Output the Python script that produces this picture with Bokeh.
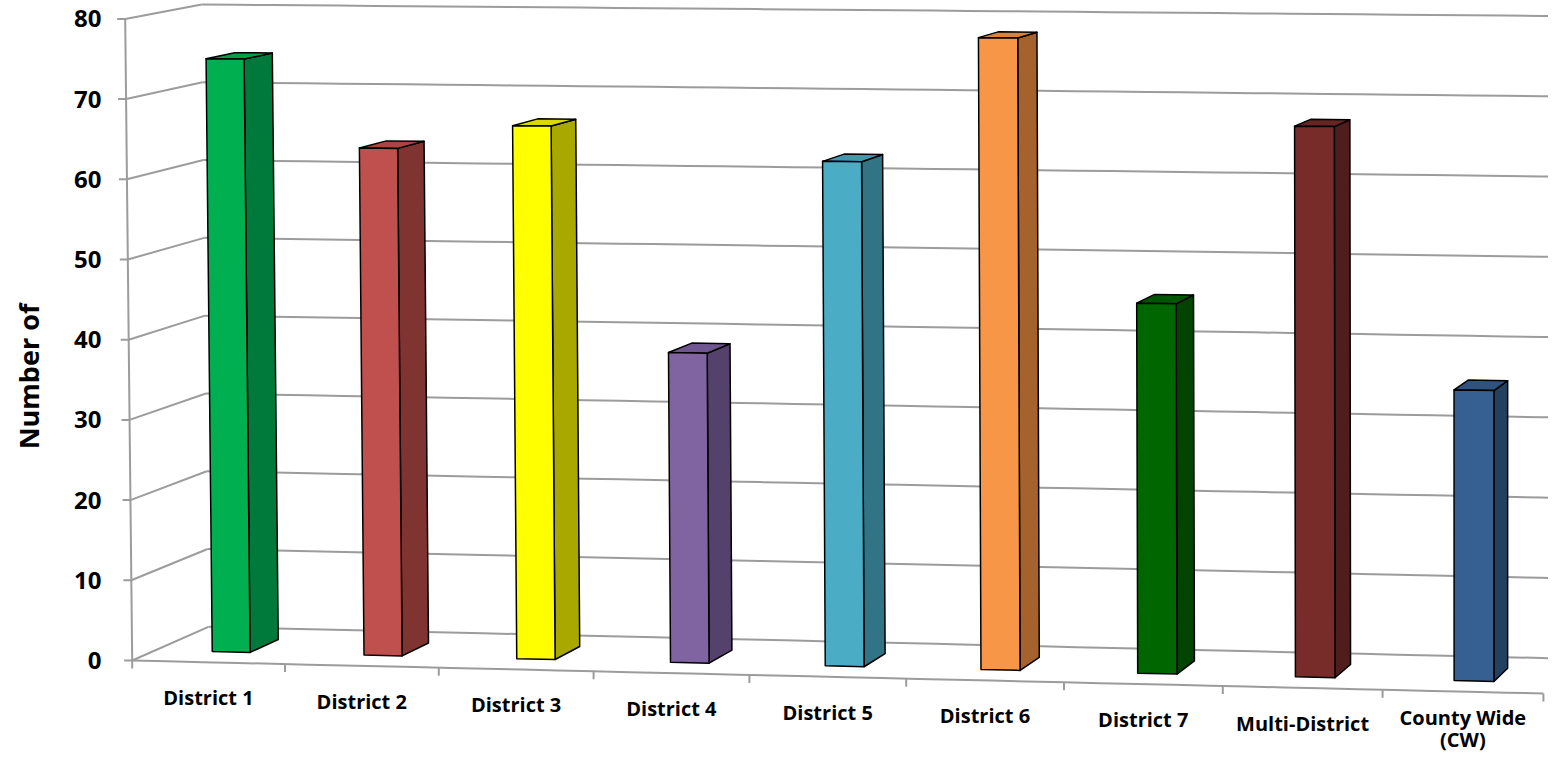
import numpy as np
from bokeh.plotting import figure
from bokeh.models import Range1d, FixedTicker
from bokeh.core.properties import value
from bokeh.embed import file_html
from bokeh.resources import INLINE

# ---------------- data ----------------
categories = ["District 1", "District 2", "District 3", "District 4", "District 5",
              "District 6", "District 7", "Multi-District", "County Wide\n(CW)"]
counts = [74.5, 63.5, 66.5, 38.5, 62.5, 78, 45.5, 67.5, 35.5]
front_colors = ["#00B050", "#C0504D", "#FFFF00", "#8064A2", "#4BACC6",
                "#F79646", "#006600", "#772C2A", "#376092"]
side_colors = ["#007A3A", "#803432", "#A8A800", "#55426C", "#317486",
               "#A5622C", "#004400", "#4F1D1C", "#244061"]
top_colors = ["#00A045", "#A94542", "#D9D900", "#6F5690", "#4398B0",
              "#D98239", "#005600", "#652523", "#2F527E"]
y_ticks = [0, 10, 20, 30, 40, 50, 60, 70, 80]
y_label = "Number of"

# ---------------- 3-D projection (perspective view) ----------------
X0, DX1, DX2 = 131.7, 152.3, 0.5        # front floor edge along categories
Y0, FLOOR_SLOPE = 660.0, 0.0234
S0, S1 = 8.02, 0.029                    # vertical scale per value unit
LEAN0, LEAN_U = 0.0875, 8.6
VPX, VPY = 2674.0, -462.0               # depth vanishing point
WALL = 0.03                             # depth of the chart box
BAR_F, BAR_B = 0.0092, 0.0207           # bar depth span
BAR_HALF = 0.125                        # half bar width (gap width 300%)
PX = 8.02
W, H = 1548, 752
LEFT = 110


def project(u, v, lam):
    u = np.asarray(u, dtype=float)
    v = np.asarray(v, dtype=float)
    base = DX1 * u + DX2 * u * u
    xf = X0 + base - LEAN0 * (1 - u / LEAN_U) * v
    yf = Y0 + FLOOR_SLOPE * base - (S0 + S1 * u) * v
    X = xf + lam * (VPX - xf)
    Y = yf + lam * (VPY - yf)
    return X, (Y0 - Y) / PX


n = len(categories)

p = figure(width=W, height=H,
           x_range=Range1d(LEFT, W),
           y_range=Range1d((Y0 - H) / PX, Y0 / PX),
           output_backend="svg", toolbar_location=None,
           x_axis_location=None,
           min_border_left=LEFT, min_border_right=0,
           min_border_top=0, min_border_bottom=0)
p.grid.visible = False
p.outline_line_color = None
p.background_fill_color = "white"

ax = p.yaxis[0]
ax.ticker = FixedTicker(ticks=y_ticks)
ax.axis_line_color = None
ax.major_tick_line_color = None
ax.minor_tick_line_color = None
ax.major_tick_out = 0
ax.major_tick_in = 0
ax.major_label_standoff = 9
ax.major_label_text_font = "Open Sans"
ax.major_label_text_font_style = "bold"
ax.major_label_text_font_size = "24px"
ax.major_label_text_color = "black"
ax.axis_label = y_label
ax.axis_label_standoff = 24
ax.axis_label_text_font = "Open Sans"
ax.axis_label_text_font_style = "bold"
ax.axis_label_text_font_size = "27px"
ax.axis_label_text_color = "black"

GRID = "#9C9C9C"

# ---------------- walls / floor gridlines ----------------
us = np.linspace(0, n, 40)
xs, ys = [], []
for t in y_ticks:
    bx, by = project(us, np.full_like(us, t), WALL)
    xs.append(list(bx)); ys.append(list(by))
    sx, sy = project([0, 0], [t, t], 0.0)
    ex, ey = project([0, 0], [t, t], WALL)
    xs.append([float(sx[0]), float(ex[0])]); ys.append([float(sy[0]), float(ey[0])])
fx, fy = project(us, np.zeros_like(us), 0.0)
xs.append(list(fx)); ys.append(list(fy))
vx, vy = project([0, 0], [0, y_ticks[-1]], 0.0)
xs.append(list(vx)); ys.append(list(vy))
for t in y_ticks:
    tx, ty = project([0], [t], 0.0)
    xs.append([float(tx[0]) - 8, float(tx[0])]); ys.append([float(ty[0]), float(ty[0])])
for k in range(n + 1):
    cx, cy = project([k], [0], 0.0)
    xs.append([float(cx[0]), float(cx[0])]); ys.append([float(cy[0]), float(cy[0]) - 8 / PX])
p.multi_line(xs, ys, line_color=GRID, line_width=2)

# ---------------- bars ----------------
front_x, front_y, side_x, side_y, top_x, top_y = [], [], [], [], [], []
for k, val in enumerate(counts):
    ul, ur = k + 0.5 - BAR_HALF, k + 0.5 + BAR_HALF
    X, Yv = project([ul, ur, ur, ul], [0, 0, val, val], BAR_F)
    front_x.append(list(X)); front_y.append(list(Yv))
    a = project([ur, ur], [0, val], BAR_F)
    b = project([ur, ur], [val, 0], BAR_B)
    side_x.append(list(a[0]) + list(b[0])); side_y.append(list(a[1]) + list(b[1]))
    a = project([ul, ur], [val, val], BAR_F)
    b = project([ur, ul], [val, val], BAR_B)
    top_x.append(list(a[0]) + list(b[0])); top_y.append(list(a[1]) + list(b[1]))

p.patches(side_x, side_y, fill_color=side_colors, line_color="black",
          line_width=1.5, line_join="round")
p.patches(top_x, top_y, fill_color=top_colors, line_color="black",
          line_width=1.5, line_join="round")
p.patches(front_x, front_y, fill_color=front_colors, line_color="black",
          line_width=1.5, line_join="round")

# ---------------- category labels (one glyph per text line) ----------------
lx, ly = project(np.arange(n) + 0.5, np.zeros(n), 0.0)
tx_, ty_, tt_ = [], [], []
for c, x, y in zip(categories, lx, ly):
    lines = c.split("\n")
    first = 22 if len(lines) == 1 else 12
    for i, line in enumerate(lines):
        tx_.append(float(x))
        ty_.append(float(y) - (first + 22 * i) / PX)
        tt_.append(line)
p.text(x=tx_, y=ty_, text=tt_,
       text_align="center", text_baseline="top",
       text_font=value("Open Sans"), text_font_style="bold",
       text_font_size=value("20px"), text_color="black")

open("out.html", "w").write(file_html(p, INLINE))
